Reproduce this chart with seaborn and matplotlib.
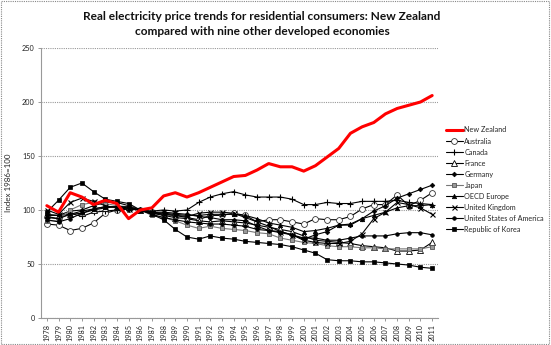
import matplotlib
matplotlib.use("Agg")
import matplotlib.pyplot as plt
import seaborn as sns
import pandas as pd
from matplotlib.patches import Rectangle

years = list(range(1978, 2012))

new_zealand = [104, 98, 116, 112, 105, 109, 106, 92, 100, 102, 113, 116, 112, 116, 121, 126, 131, 132,
               137, 143, 140, 140, 136, 141, 149, 157, 171, 177, 181, 189, 194, 197, 200, 206]
australia = [87, 86, 81, 83, 88, 97, 100, 101, 100, 98, 96, 95, 93, 91, 95, 95, 97, 95,
             89, 91, 91, 89, 87, 92, 91, 91, 94, 101, 105, 105, 114, 104, 109, 116]
canada = [93, 92, 97, 94, 98, 99, 100, 101, 100, 99, 100, 99, 100, 107, 112, 115, 117, 114,
          112, 112, 112, 110, 105, 105, 107, 106, 106, 108, 108, 108, 109, 107, 106, 105]
france = [96, 95, 96, 97, 100, 102, 103, 103, 100, 97, 95, 93, 92, 90, 89, 90, 89, 88,
          86, 84, 82, 80, 76, 72, 71, 70, 69, 67, 66, 65, 62, 62, 63, 70]
germany = [95, 95, 99, 100, 104, 107, 107, 104, 100, 98, 98, 97, 96, 94, 93, 91, 91, 90,
           85, 81, 79, 77, 73, 77, 80, 86, 86, 92, 99, 104, 111, 115, 119, 123]
japan = [90, 90, 100, 105, 107, 106, 104, 103, 100, 95, 93, 90, 86, 83, 85, 83, 82, 81,
         79, 78, 74, 72, 70, 69, 67, 66, 66, 65, 65, 64, 64, 64, 64, 66]
oecd_europe = [94, 92, 96, 99, 101, 103, 103, 102, 100, 98, 97, 96, 95, 95, 96, 96, 96, 95,
               92, 88, 86, 84, 80, 81, 83, 86, 87, 92, 95, 98, 102, 104, 104, 105]
united_kingdom = [100, 96, 107, 111, 108, 104, 102, 101, 100, 97, 96, 95, 94, 97, 98, 98, 97, 93,
                  89, 85, 80, 77, 72, 70, 69, 69, 71, 78, 92, 98, 107, 105, 102, 96]
usa = [91, 89, 92, 97, 101, 103, 103, 103, 100, 96, 93, 91, 89, 88, 87, 87, 86, 85,
       82, 81, 80, 77, 74, 74, 72, 72, 74, 76, 76, 76, 78, 79, 79, 77]
korea = [98, 109, 121, 125, 117, 110, 108, 106, 100, 96, 91, 82, 75, 73, 76, 74, 73, 71,
         70, 69, 68, 66, 63, 60, 54, 53, 53, 52, 52, 51, 50, 49, 47, 46]

series_names = ["New Zealand", "Australia", "Canada", "France", "Germany", "Japan",
                "OECD Europe", "United Kingdom", "United States of America", "Republic of Korea"]
series_values = [new_zealand, australia, canada, france, germany, japan,
                 oecd_europe, united_kingdom, usa, korea]

styles = {
    "New Zealand": dict(color="#ff0000", lw=2.2, marker=None),
    "Australia": dict(color="black", lw=0.8, marker="o", ms=4.2, mfc="white", mec="#333333", mew=0.6),
    "Canada": dict(color="black", lw=0.8, marker="+", ms=4.5, mew=0.8),
    "France": dict(color="black", lw=0.8, marker="^", ms=3.8, mfc="white", mec="black", mew=0.6),
    "Germany": dict(color="black", lw=0.8, marker="D", ms=2.4),
    "Japan": dict(color="#777777", lw=0.8, marker="s", ms=3.2, mfc="#999999", mec="#555555", mew=0.6),
    "OECD Europe": dict(color="black", lw=0.8, marker="^", ms=3.2),
    "United Kingdom": dict(color="black", lw=0.8, marker="x", ms=3.6, mew=0.8),
    "United States of America": dict(color="black", lw=0.8, marker="o", ms=2.6),
    "Republic of Korea": dict(color="black", lw=0.8, marker="s", ms=3.0),
}

rows = []
for name, vals in zip(series_names, series_values):
    for y, v in zip(years, vals):
        rows.append({"Year": y, "Series": name, "Value": v})
df = pd.DataFrame(rows)

sns.set_theme(style="white")
plt.rcParams["font.family"] = ["Lato", "DejaVu Sans"]

fig = plt.figure(figsize=(5.51, 3.45), dpi=100)
ax = fig.add_axes([41 / 551, 1 - 318 / 345, (438 - 41) / 551, (318 - 48) / 345])

handles = []
for name in series_names:
    st = styles[name]
    sub = df[df["Series"] == name]
    sns.lineplot(data=sub, x="Year", y="Value", ax=ax, color=st["color"], linewidth=st["lw"],
                 marker=st.get("marker"), markersize=st.get("ms", 0),
                 markerfacecolor=st.get("mfc", st["color"]),
                 markeredgecolor=st.get("mec", st["color"]),
                 markeredgewidth=st.get("mew", 0.5), label=name, legend=False,
                 zorder=3 if name == "New Zealand" else 2)
    handles.append(ax.lines[-1])

ax.set_xlim(1977.5, 2011.5)
ax.set_ylim(0, 250)
ax.set_yticks([0, 50, 100, 150, 200, 250])
ax.set_yticklabels(["0", "50", "100", "150", "200", "250"], fontsize=5.2, color="#222222")
ax.set_xticks(years)
ax.set_xticklabels([str(y) for y in years], rotation=90, fontsize=5.2, color="#222222")
ax.tick_params(axis="both", length=2.5, width=0.6, color="#888888", pad=2, direction="out")
ax.tick_params(axis="x", bottom=True)
ax.tick_params(axis="y", left=True)
ax.set_xlabel("")
ax.set_ylabel("Index 1986=100", fontsize=5.8, labelpad=7, color="#222222")
ax.yaxis.grid(True, linestyle=(0, (1, 1)), color="#999999", linewidth=0.8)
ax.xaxis.grid(False)
for s in ["top", "right"]:
    ax.spines[s].set_visible(False)
for s in ["left", "bottom"]:
    ax.spines[s].set_color("#999999")
    ax.spines[s].set_linewidth(0.8)

fig.text(262 / 551, 1 - 24 / 345,
         "Real electricity price trends for residential consumers: New Zealand\ncompared with nine other developed economies",
         ha="center", va="center", fontsize=8.6, fontweight="bold", linespacing=1.55, color="#111111")

fig.legend(handles, series_names, loc="upper left", bbox_to_anchor=(446 / 551, 1 - 126.5 / 345),
           frameon=False, fontsize=5.2, labelspacing=0.56, handlelength=2.3, handletextpad=0.25,
           borderaxespad=0, borderpad=0)

fig.patches.append(Rectangle((0.002, 0.003), 0.995, 0.994, transform=fig.transFigure, fill=False,
                             edgecolor="#888888", linestyle=(0, (1, 1)), linewidth=0.8))

fig.savefig("out.png", dpi=100)
